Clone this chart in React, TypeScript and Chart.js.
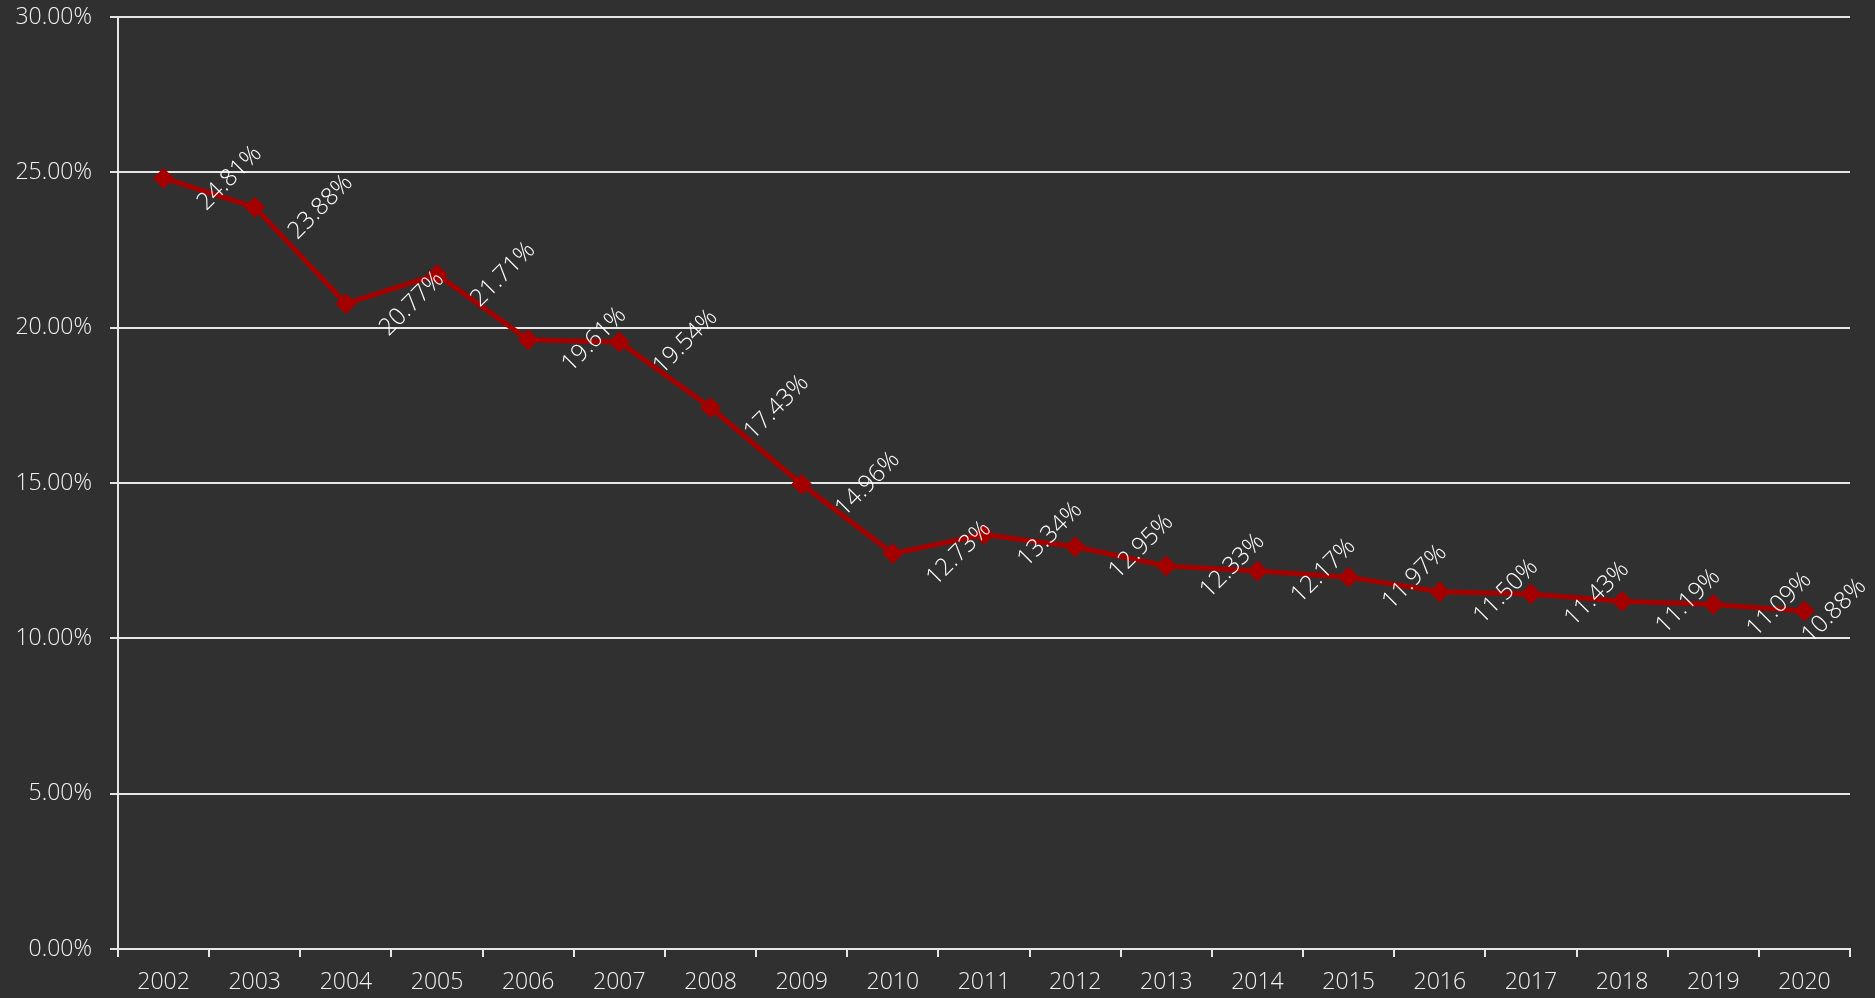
import React, { useEffect, useRef } from "react";
import { Chart, registerables } from "chart.js";

Chart.register(...registerables);

const years = ["2002","2003","2004","2005","2006","2007","2008","2009","2010","2011","2012","2013","2014","2015","2016","2017","2018","2019","2020"];
const rates = [24.81,23.88,20.77,21.71,19.61,19.54,17.43,14.96,12.73,13.34,12.95,12.33,12.17,11.97,11.50,11.43,11.19,11.09,10.88];

const FONT = "'Open Sans', 'Noto Sans', sans-serif";

const labelPlugin = {
  id: "rotLabels",
  afterDatasetsDraw(chart: any) {
    const ctx = chart.ctx;
    const meta = chart.getDatasetMeta(0);
    const ds = chart.data.datasets[0];
    ctx.save();
    ctx.font = `300 24px ${FONT}`;
    ctx.fillStyle = "#ffffff";
    ctx.textAlign = "center";
    ctx.textBaseline = "middle";
    meta.data.forEach((pt: any, i: number) => {
      const txt = Number(ds.data[i]).toFixed(2) + "%";
      const w = ctx.measureText(txt).width;
      const half = (w + 16) / (2 * Math.SQRT2);
      let cx = pt.x + 66;
      const maxX = chart.width - 7 - half;
      if (cx > maxX) cx = maxX;
      ctx.save();
      ctx.translate(cx, pt.y);
      ctx.rotate(-Math.PI / 4);
      ctx.fillText(txt, 0, 0);
      ctx.restore();
    });
    ctx.restore();
  },
};

export default function App() {
  const ref = useRef<HTMLCanvasElement>(null);
  useEffect(() => {
    document.body.style.margin = "0";
    document.body.style.background = "#303030";
    const chart = new Chart(ref.current!, {
      type: "line",
      data: {
        labels: years,
        datasets: [
          {
            data: rates,
            borderColor: "#a50000",
            backgroundColor: "#a50000",
            borderWidth: 5,
            pointStyle: "rectRot",
            pointRadius: 10,
            pointBorderWidth: 1,
            pointBorderColor: "#a50000",
            pointBackgroundColor: "#a50000",
            tension: 0,
          },
        ],
      },
      options: {
        responsive: false,
        animation: false,
        layout: { padding: { top: 17, right: 25, bottom: 0, left: 0 } },
        plugins: { legend: { display: false }, tooltip: { enabled: false } },
        scales: {
          x: {
            offset: true,
            grid: { offset: true, drawOnChartArea: false, drawTicks: true, tickLength: 8, color: "#e6e6e6", lineWidth: 2 },
            border: { color: "#e6e6e6", width: 2 },
            ticks: { color: "#f2f2f2", font: { family: FONT, size: 23, weight: "300" }, padding: 12, maxRotation: 0, autoSkip: false },
            afterFit(scale: any) { scale.height = 49; scale.paddingLeft = 0; scale.paddingRight = 0; },
          },
          y: {
            min: 0,
            max: 30,
            ticks: {
              stepSize: 5,
              color: "#f2f2f2",
              padding: 18,
              font: { family: FONT, size: 23, weight: "300" },
              callback: (v: any) => Number(v).toFixed(2) + "%",
            },
            grid: { color: "#e6e6e6", lineWidth: 2, tickLength: 8 },
            border: { color: "#e6e6e6", width: 2 },
            afterFit(scale: any) { scale.width = 118; scale.paddingTop = 0; scale.paddingBottom = 0; },
          },
        },
      },
      plugins: [labelPlugin],
    });
    return () => chart.destroy();
  }, []);
  return (
    <div style={{ position: "fixed", left: 0, top: 0, width: 1875, height: 998, background: "#303030" }}>
      <canvas ref={ref} width={1875} height={998} style={{ display: "block" }} />
    </div>
  );
}
